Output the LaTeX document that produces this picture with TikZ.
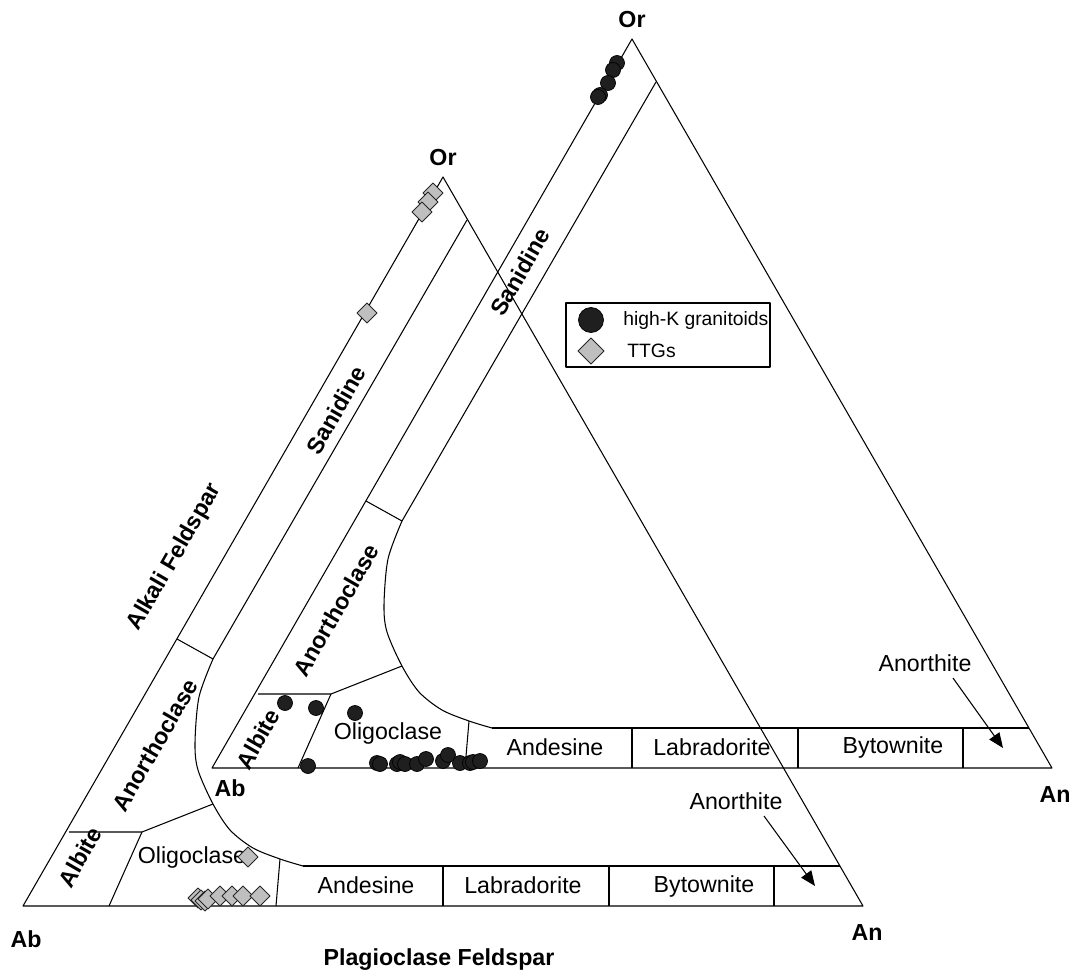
\documentclass[tikz,border=0pt]{standalone}
\usepackage{fontspec}
\setmainfont{Liberation Sans}
\usetikzlibrary{arrows.meta}
\newcommand\feldsparlines{%
  \draw[ln] (443,177) -- (23,906) -- (863,906) -- cycle;
  \draw[ln] (467,220) -- (213,659);
  \draw[ln] (177,639) -- (213,659);
  \draw[ln] plot[smooth, tension=0.5] coordinates {(213,659) (199,697) (195,743) (198,770) (213,804) (230,830) (253,848) (280,859) (303,866)};
  \draw[ln] (303,866) -- (840,866);
  \draw[ln] (280,859) -- (276,906);
  \draw[ln] (443,866) -- (443,906);
  \draw[ln] (609,866) -- (609,906);
  \draw[ln] (774,866) -- (774,906);
  \draw[ln] (69,832) -- (142,832) -- (213,804);
  \draw[ln] (142,832) -- (109,906);
}
\newcommand\hkmark[3]{\filldraw[hkdot] (#1,#2) circle[radius=#3];}
\newcommand\ttgmark[3]{\filldraw[ttgd] (#1,#2) ++(-#3,0) -- ++(#3,-#3) -- ++(#3,#3) -- ++(-#3,#3) -- cycle;}
\begin{document}
\begin{tikzpicture}[x=0.02cm,y=-0.02cm,line join=round]
\tikzset{
  ln/.style={line width=0.6pt, black},
  lbl/.style={font=\fontsize{13.2}{15}\selectfont, inner sep=0pt},
  blbl/.style={font=\fontsize{13.2}{15}\selectfont\bfseries, inner sep=0pt},
  leglbl/.style={font=\fontsize{11}{13}\selectfont, inner sep=0pt, anchor=west},
  hkdot/.style={draw=black, fill=black!88, line width=0.4pt},
  ttgd/.style={draw=black!85, fill=black!25, line width=0.5pt},
  arr/.style={ln, -{Triangle[length=8.5pt,width=7pt]}}
}
\useasboundingbox (0,0) rectangle (1073,974);

% front triangle
\feldsparlines
% back triangle
\begin{scope}[shift={(189,-138)}]
\feldsparlines
\end{scope}

% apex labels
\node[blbl] (orF) at (443,158) {Or};
\node[blbl] (abF) at (26,939) {Ab};
\node[blbl] (anF) at (867,933) {An};
\node[blbl] (orB) at (632,20) {Or};
\node[blbl] (abB) at (230,788) {Ab};
\node[blbl] (anB) at (1055,795) {An};

\node[blbl] (plag) at (439,960) {Plagioclase Feldspar};
\node[blbl, rotate=60] (alk) at (175,557) {Alkali Feldspar};

% front field labels
\node[blbl, rotate=60] (sanF) at (336,410) {Sanidine};
\node[blbl, rotate=60] (anoF) at (155,745) {Anorthoclase};
\node[blbl, rotate=60] (albF) at (80,857) {Albite};
\node[lbl] (oliF) at (192,857) {Oligoclase};
\node[lbl] (andF) at (366,885) {Andesine};
\node[lbl] (labF) at (523,885) {Labradorite};
\node[lbl] (bytF) at (704,886) {Bytownite};
\node[lbl] (antF) at (736,801) {Anorthite};
\coordinate (antFs) at (764,816);
\coordinate (antFe) at (815,886);
\draw[arr] (antFs) -- (antFe);

% back field labels
\node[blbl, rotate=60] (sanB) at (520,272) {Sanidine};
\node[blbl, rotate=60] (anoB) at (336,610) {Anorthoclase};
\node[blbl, rotate=60] (albB) at (258,739) {Albite};
\node[lbl] (oliB) at (388,733) {Oligoclase};
\node[lbl] (andB) at (555,747) {Andesine};
\node[lbl] (labB) at (712,747) {Labradorite};
\node[lbl] (bytB) at (893,747) {Bytownite};
\node[lbl] (antB) at (925,663) {Anorthite};
\coordinate (antBs) at (953,678);
\coordinate (antBe) at (1003,748);
\draw[arr] (antBs) -- (antBe);

% data: high-K granitoids
\foreach \x/\y in {617/63, 613/70, 608/83, 600/95, 598/97,
  285/703, 316/708, 355/713, 308/766,
  377/763, 380/764, 397/764, 400/762, 405/764, 417/764, 426/759,
  443/761, 448/755, 460/763, 470/763, 473/762, 480/761}
  {\hkmark{\x}{\y}{7.5}}

% data: TTGs
\foreach \x/\y in {433/193, 428/202, 422/212, 367/313, 248/857,
  198/898, 201/900, 205/901, 208/899, 220/896, 232/896, 243/896, 260/896}
  {\ttgmark{\x}{\y}{10}}

% legend
\draw[line width=0.6pt, fill=white] (566,303) rectangle (770,367);
\hkmark{591}{320}{12.5}
\ttgmark{591}{351}{13}
\node[leglbl] (leghkt) at (623,320) {high-K granitoids};
\node[leglbl] (legttt) at (627,351) {TTGs};
\end{tikzpicture}
\end{document}
